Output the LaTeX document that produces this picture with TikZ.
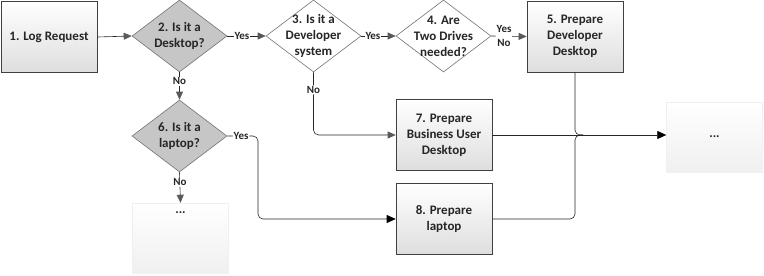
\documentclass[tikz,border=0pt]{standalone}
\usepackage{fontspec}
\setmainfont{Carlito}
\usetikzlibrary{shapes.geometric,arrows.meta}
\definecolor{dfill}{HTML}{C6C6C6}
\definecolor{tipgray}{HTML}{595959}
\definecolor{txt}{HTML}{262626}
\begin{document}
\begin{tikzpicture}[x=1pt,y=-1pt,
  font=\bfseries\fontsize{13}{16}\selectfont, text=txt,
  box/.style={draw=black!75, line width=0.6pt, top color=white, bottom color=black!13,
    minimum width=96pt, minimum height=71pt, inner sep=0pt, align=center},
  ghost/.style={draw=black!6, line width=0.4pt, top color=white, bottom color=black!6,
    minimum width=96pt, minimum height=70pt, inner sep=0pt},
  dia/.style={shape=diamond, draw=black!55, line width=0.6pt, minimum width=95pt,
    minimum height=72pt, inner sep=0pt},
  dtxt/.style={align=center, inner sep=0pt},
  lab/.style={font=\bfseries\fontsize{11}{12}\selectfont, fill=white, inner sep=1pt, align=center},
  conn/.style={line width=0.6pt, draw=black!85},
  gtip/.style={conn, -{Triangle[length=8pt,width=7pt,fill=tipgray,color=tipgray]}},
  btip/.style={conn, -{Triangle[length=9pt,width=8pt,fill=black,color=black]}}
]
\useasboundingbox (0,0) rectangle (764,276);

% boxes
\node[box] (b1) at (49,37) {1. Log Request};
\node[box] (b5) at (575,36.5) {5. Prepare\\Developer\\Desktop};
\node[box] (b7) at (444,135) {7. Prepare\\Business User\\Desktop};
\node[box] (b8) at (444,219) {8. Prepare\\laptop};
\node[ghost] (dl) at (180.5,238) {};
\node[dtxt] (dlt) at ([yshift=-10pt]dl.north) {...};
\node[ghost] (dr) at (714.5,137) {};
\node[dtxt] (drt) at (dr.center) {...};

% diamonds
\node[dia, fill=dfill] (d2) at (179.5,36) {};
\node[dtxt] (d2t) at (d2.center) {2. Is it a\\Desktop?};
\node[dia, fill=white] (d3) at (313.5,36) {};
\node[dtxt] (d3t) at (d3.center) {3. Is it a\\Developer\\system};
\node[dia, fill=white] (d4) at (443.5,36) {};
\node[dtxt] (d4t) at (d4.center) {4. Are\\Two Drives\\needed?};
\node[dia, fill=dfill] (d6) at (179.5,136) {};
\node[dtxt] (d6t) at (d6.center) {6. Is it a\\laptop?};

% connectors
\draw[gtip] (b1.east) -- (d2.west);
\draw[gtip] (d2.east) -- node[lab, pos=0.38] {Yes} (d3.west);
\draw[gtip] (d3.east) -- node[lab, pos=0.34] {Yes} (d4.west);
\draw[gtip] (d4.east) -- node[lab, pos=0.36, font=\bfseries\fontsize{11}{14}\selectfont] {Yes\\No} (b5.west);
\draw[gtip] (d2.south) -- node[lab, pos=0.33] {No} (d6.north);
\draw[gtip] (d6.south) -- node[lab, pos=0.33] {No} (dl.north);
\draw[gtip, rounded corners=5pt] (d3.south) |- node[lab, pos=0.14] {No} (b7.west);
\coordinate (c6) at (258,136);
\draw[btip, rounded corners=5pt] (d6.east) -- node[lab, pos=0.45] {Yes} (c6) |- (b8.west);
\coordinate (j) at (b5.south |- b7.east);
\draw[conn, rounded corners=5pt] (b5.south) -- (j) -- ([xshift=8pt]j);
\draw[conn, rounded corners=5pt] (b8.east) -| (j) -- ([xshift=8pt]j);
\draw[btip] (b7.east) -- (b7.east -| dr.west);
\end{tikzpicture}
\end{document}
